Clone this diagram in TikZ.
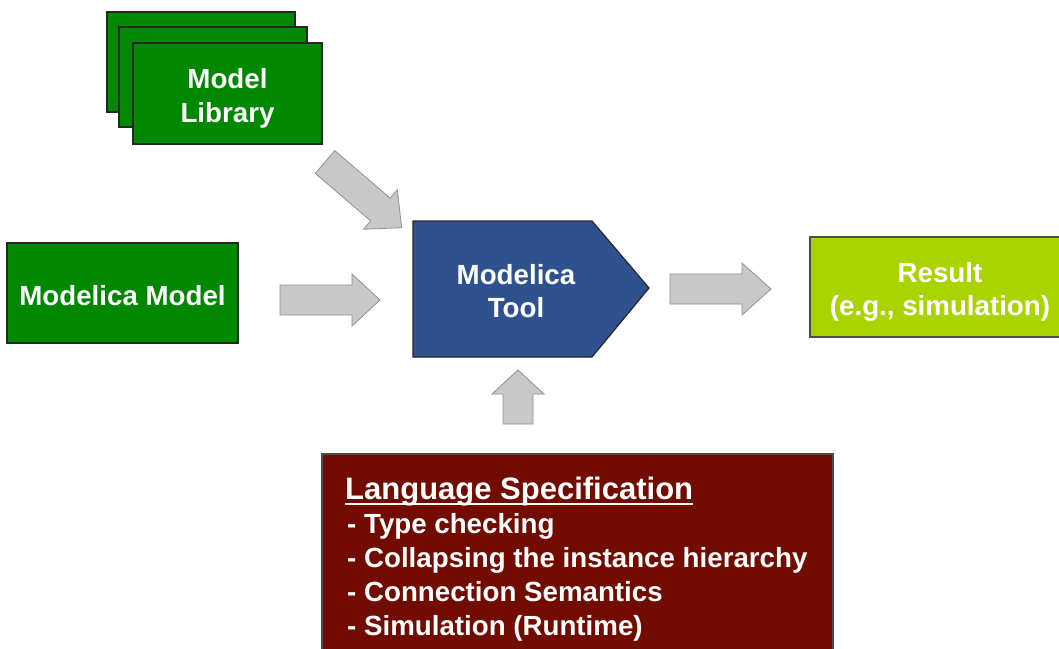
\documentclass[tikz,border=0pt]{standalone}
\usepackage{fontspec}
\setmainfont{Liberation Sans}
\usepackage{tikz}
\usetikzlibrary{positioning}

\definecolor{modelgreen}{RGB}{0,136,0}
\definecolor{toolblue}{RGB}{47,82,143}
\definecolor{resultlime}{RGB}{170,212,0}
\definecolor{specred}{RGB}{115,12,0}
\definecolor{arrowgray}{RGB}{200,200,200}
\definecolor{arrowedge}{RGB}{145,145,145}

\newcommand{\boxfont}{\fontsize{27.7}{33.5}\selectfont\bfseries}
\newcommand{\specfont}{\fontsize{31}{37}\selectfont\bfseries}
\newcommand{\blockarrow}[4]{%
  \draw[grayarrow, shift={#1}, rotate=#2] (0,-15) -- (#3-#4,-15) -- (#3-#4,-26)
    -- (#3,0) -- (#3-#4,26) -- (#3-#4,15) -- (0,15) -- cycle;}

\tikzset{
  box/.style={draw=black!85, line width=1.2pt, inner sep=0pt, text=white,
    font=\boxfont, align=center},
  txt/.style={inner sep=0pt, text=white, font=\boxfont, align=center},
  item/.style={inner sep=0pt, text=white, font=\boxfont, anchor=base west},
  grayarrow/.style={fill=arrowgray, draw=arrowedge, line width=0.8pt, line join=miter}
}

\begin{document}
\begin{tikzpicture}[x=1pt, y=-1pt]
\useasboundingbox (0,0) rectangle (1059,648);
\clip (0,0) rectangle (1059,648);

% model library (stack of three)
\node[box, fill=modelgreen, minimum width=188pt, minimum height=100pt] (lib1) at (201,62) {};
\node[box, fill=modelgreen, minimum width=188pt, minimum height=100pt] (lib2) at (213,77) {};
\node[box, fill=modelgreen, minimum width=189pt, minimum height=101pt] (lib3) at (227.5,93.5) {};
\node[txt] (libtext) at ([yshift=-5pt]lib3.center) {Model\\Library};

% modelica model
\node[box, fill=modelgreen, minimum width=231pt, minimum height=100pt] (model) at (122.5,293) {};
\node[txt] (modeltext) at ([yshift=-3pt]model.center) {Modelica Model};

% modelica tool
\draw[fill=toolblue, draw=black!85, line width=1.2pt, line join=miter]
  (413,221) -- (592,221) -- (649,288) -- (592,357) -- (413,357) -- cycle;
\node[txt] (tool) at (516,291) {Modelica\\Tool};

% result
\node[box, fill=resultlime, draw=black!70, minimum width=260pt, minimum height=100pt] (result) at (940,287) {};
\node[txt] (resulttext) at ([yshift=-5pt]result.center) {Result\\(e.g., simulation)};

% language specification
\node[box, fill=specred, draw=black!70, minimum width=511pt, minimum height=212pt] (spec) at (577.5,560) {};
\node[item, font=\specfont] (title) at (345,499) {Language Specification};
\draw[white, line width=2pt] ([yshift=-5pt]title.base west) -- ([yshift=-5pt]title.base east);
\node[item] (typecheck) at (347,533) {- Type checking};
\node[item] (collapse) at (347,567) {- Collapsing the instance hierarchy};
\node[item] (connect) at (347,601) {- Connection Semantics};
\node[item] (runtime) at (347,635) {- Simulation (Runtime)};

% block arrows
\blockarrow{(325,162)}{-40.6}{101}{28}
\blockarrow{(280,300)}{0}{100}{28}
\blockarrow{(670,289)}{0}{101}{29}
\blockarrow{(518,424)}{90}{54}{24}
\end{tikzpicture}
\end{document}
